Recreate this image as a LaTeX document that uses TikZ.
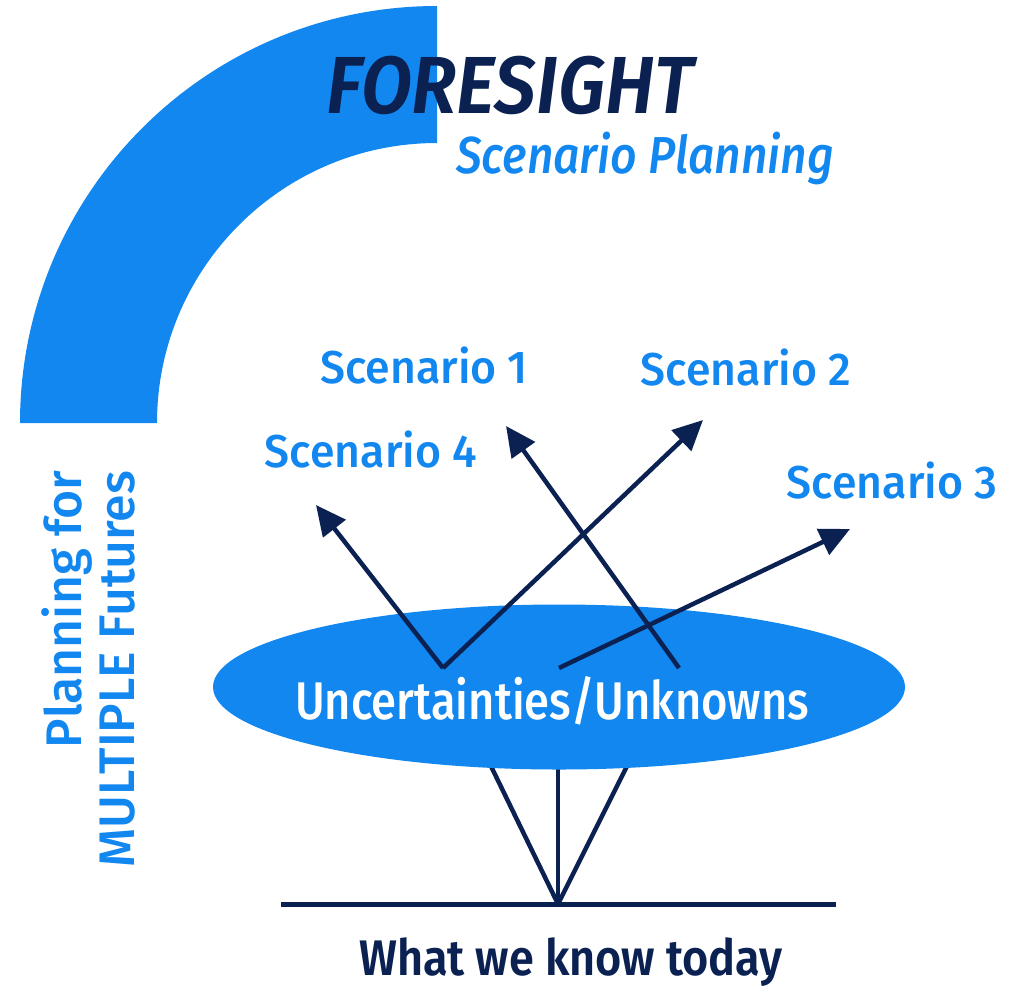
\documentclass[tikz,border=0pt]{standalone}
\usepackage{fontspec}
\setmainfont{Fira Sans}
\newfontfamily\firamed{Fira Sans}[UprightFont=* Medium, ItalicFont=* Medium Italic, BoldFont=* SemiBold, BoldItalicFont=* SemiBold Italic]
\usetikzlibrary{arrows.meta,shapes.geometric}
\definecolor{foreblue}{RGB}{18,135,240}
\definecolor{navy}{RGB}{10,33,82}
\tikzset{
  scen/.style={text=foreblue, font=\firamed\fontsize{46}{55}\selectfont, anchor=base, inner sep=0, xscale=0.97},
  futarrow/.style={draw=navy, line width=4.5, -{Triangle[length=30,width=28]}},
  rootline/.style={draw=navy, line width=4.5},
}
\begin{document}
\begin{tikzpicture}[x=1pt,y=-1pt]
\useasboundingbox (0,0) rectangle (1011,989);

% quarter ring
\fill[foreblue] (20,423) arc[start angle=180,end angle=270,radius=417] -- (437,143)
  arc[start angle=270,end angle=180,radius=280] -- cycle;

\node[text=navy, font=\firamed\bfseries\itshape\fontsize{81}{90}\selectfont, anchor=base, inner sep=0, xscale=0.92] (title) at (510,113) {FORESIGHT};
\node[text=foreblue, font=\firamed\itshape\fontsize{52}{60}\selectfont, anchor=base, inner sep=0, xscale=0.89] (sub) at (645,173) {Scenario Planning};

\node[text=foreblue, font=\firamed\fontsize{50}{53}\selectfont, rotate=90, align=right, inner sep=0] (side) at (88,669) {Planning for\\MULTIPLE Futures};

% roots below the ellipse
\coordinate (base) at (558,904);
\coordinate (bl) at (281,904);
\coordinate (br) at (836,904);
\coordinate (l1) at (488,760);
\coordinate (l2) at (558,760);
\coordinate (l3) at (630,760);
\draw[rootline] (base) -- (l1);
\draw[rootline] (base) -- (l2);
\draw[rootline] (base) -- (l3);
\draw[rootline, line width=5] (bl) -- (br);

\node[ellipse, fill=foreblue, minimum width=692, minimum height=165, inner sep=0] (unc) at (559,687) {};
\node[text=white, font=\firamed\fontsize{53}{60}\selectfont, anchor=base, inner sep=0, xscale=0.855] (unctext) at (552,719) {Uncertainties/Unknowns};

\node[text=navy, font=\firamed\bfseries\fontsize{50}{60}\selectfont, anchor=base, inner sep=0, xscale=0.9] (today) at (571,975) {What we know today};

\node[scen] (s1) at (424,383) {Scenario 1};
\node[scen] (s2) at (746,385) {Scenario 2};
\node[scen] (s3) at (892,498) {Scenario 3};
\node[scen] (s4) at (371,467) {Scenario 4};

% scenario arrows
\coordinate (v) at (443,668);
\coordinate (m) at (559,668);
\coordinate (c) at (679,668);
\coordinate (t1) at (506,426);
\coordinate (t2) at (703,420);
\coordinate (t3) at (850,529);
\coordinate (t4) at (316,505);
\draw[futarrow] (v) -- (t4);
\draw[futarrow] (v) -- (t2);
\draw[futarrow] (c) -- (t1);
\draw[futarrow] (m) -- (t3);

\end{tikzpicture}
\end{document}
